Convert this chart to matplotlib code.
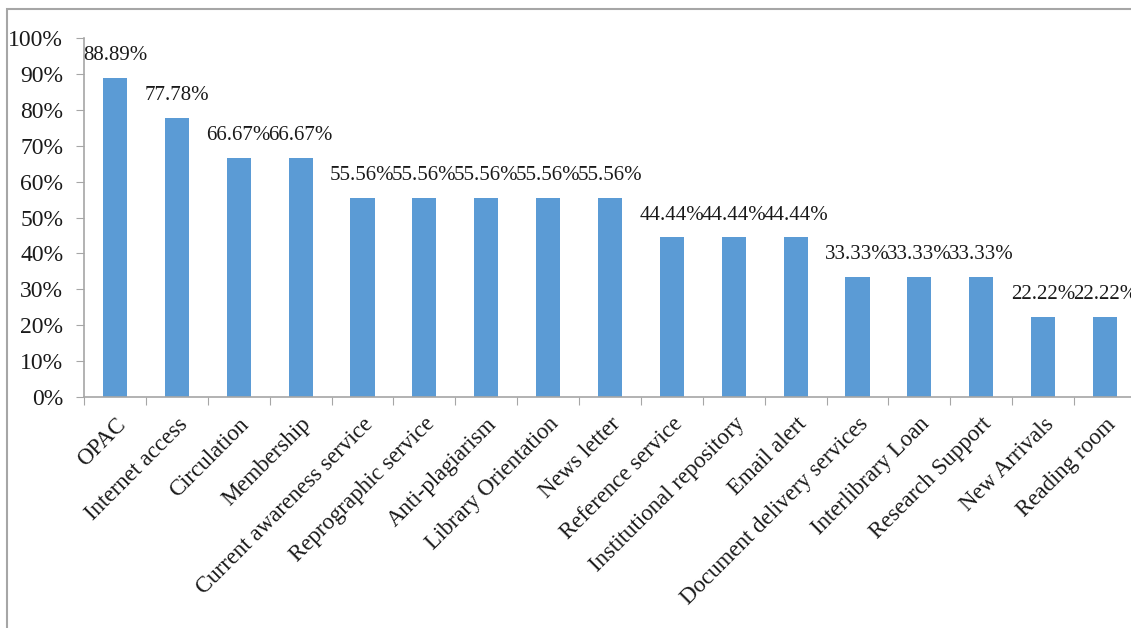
import matplotlib
matplotlib.use("Agg")
import matplotlib.pyplot as plt
from matplotlib.patches import Rectangle
from matplotlib.ticker import PercentFormatter

# data
services = ["OPAC", "Internet access", "Circulation", "Membership",
            "Current awareness service", "Reprographic service", "Anti-plagiarism",
            "Library Orientation", "News letter", "Reference service",
            "Institutional repository", "Email alert", "Document delivery services",
            "Interlibrary Loan", "Research Support", "New Arrivals", "Reading room"]
percent = [88.89, 77.78, 66.67, 66.67, 55.56, 55.56, 55.56, 55.56, 55.56,
           44.44, 44.44, 44.44, 33.33, 33.33, 33.33, 22.22, 22.22]

plt.rcParams['font.family'] = ['Liberation Serif', 'DejaVu Serif']

fig = plt.figure(figsize=(11.31, 6.28), dpi=100)
ax = fig.add_axes([84 / 1131, 1 - 397 / 628, 1052 / 1131, 359 / 628])

x = range(len(services))
bars = ax.bar(x, percent, width=0.39, color="#5B9BD5")

for b, v in zip(bars, percent):
    ax.text(b.get_x() + b.get_width() / 2, v + 3.6, f"{v:.2f}%",
            ha="center", va="bottom", fontsize=15, color="#1a1a1a", clip_on=False)

ax.set_xlim(-0.5, len(services) - 0.5)
ax.set_ylim(0, 100)
ax.set_yticks(range(0, 101, 10))
ax.yaxis.set_major_formatter(PercentFormatter(decimals=0))
ax.set_xticks([i - 0.5 for i in range(len(services) + 1)], minor=False)
ax.set_xticklabels([])
ax.set_xticks(list(x), minor=True)
ax.set_xticklabels(services, minor=True, rotation=45, ha="right",
                   rotation_mode="anchor", fontsize=16.5, color="#1a1a1a")
ax.tick_params(axis="x", which="minor", length=0, pad=12)
ax.tick_params(axis="x", which="major", length=6, color="#A6A6A6")
ax.tick_params(axis="y", length=6, color="#A6A6A6", labelsize=17,
               labelcolor="#1a1a1a", pad=9)

for s in ["top", "right"]:
    ax.spines[s].set_visible(False)
for s in ["left", "bottom"]:
    ax.spines[s].set_color("#A6A6A6")
    ax.spines[s].set_linewidth(1.2)

# chart frame (cropped on the right and bottom)
fig.patches.append(Rectangle((7 / 1131, -0.1), 1.2, 1 - 9 / 628 + 0.1,
                             transform=fig.transFigure, fill=False,
                             edgecolor="#A6A6A6", linewidth=1.5))

fig.savefig("out.png", dpi=100)
